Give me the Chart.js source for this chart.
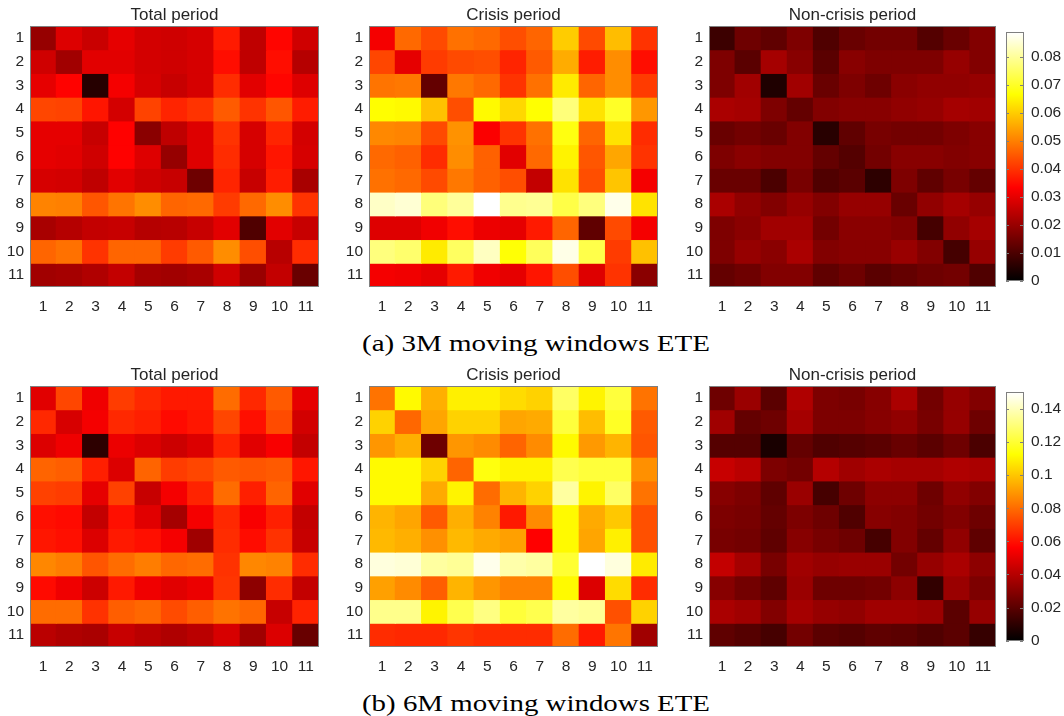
<!DOCTYPE html>
<html><head><meta charset="utf-8">
<script src="https://cdn.jsdelivr.net/npm/chart.js@4.4.1/dist/chart.umd.min.js"></script>
<style>
html,body{margin:0;padding:0;background:#fff;width:1064px;height:716px;overflow:hidden;position:relative}
canvas{position:absolute}
.cap{position:absolute;font-family:'Liberation Serif','DejaVu Serif',serif;font-size:23px;line-height:23px;color:#000;white-space:nowrap;transform-origin:left center}
</style></head><body>
<div class="cap" id="capA">(a) 3M moving windows ETE</div>
<div class="cap" id="capB">(b) 6M moving windows ETE</div>
<script>
// ---------------- data ----------------
const tickLabels = ['1','2','3','4','5','6','7','8','9','10','11'];
const titles = ['Total period','Crisis period','Non-crisis period'];

const totalA = [
 [0.0196,0.0288,0.0262,0.030,0.0275,0.027,0.028,0.0367,0.0249,0.034,0.027],
 [0.027,0.021,0.0295,0.0295,0.0275,0.027,0.028,0.035,0.025,0.035,0.0236],
 [0.030,0.0335,0.005,0.032,0.028,0.026,0.028,0.039,0.0295,0.034,0.029],
 [0.0425,0.042,0.036,0.0275,0.042,0.038,0.040,0.0452,0.040,0.0445,0.037],
 [0.030,0.030,0.026,0.0334,0.018,0.025,0.029,0.040,0.028,0.038,0.0275],
 [0.030,0.0295,0.027,0.0334,0.029,0.0196,0.029,0.039,0.028,0.036,0.028],
 [0.028,0.0275,0.025,0.0295,0.027,0.026,0.0144,0.038,0.026,0.037,0.022],
 [0.0504,0.050,0.0445,0.0485,0.0517,0.0465,0.047,0.041,0.047,0.0517,0.040],
 [0.022,0.0236,0.0255,0.026,0.0236,0.024,0.026,0.0295,0.0105,0.0295,0.026],
 [0.0465,0.048,0.040,0.0465,0.0465,0.041,0.045,0.0517,0.0435,0.024,0.039],
 [0.021,0.0215,0.023,0.0255,0.0215,0.021,0.022,0.027,0.020,0.0255,0.0137]
];
const crisisA = [
 [0.032,0.047,0.043,0.048,0.047,0.0435,0.0465,0.060,0.043,0.058,0.040],
 [0.0425,0.030,0.041,0.043,0.0435,0.038,0.045,0.0557,0.037,0.0517,0.035],
 [0.0485,0.049,0.013,0.049,0.047,0.040,0.048,0.064,0.0465,0.0517,0.041],
 [0.0665,0.066,0.0585,0.0435,0.066,0.0615,0.0667,0.0772,0.063,0.070,0.053],
 [0.051,0.0505,0.043,0.0524,0.0328,0.040,0.048,0.068,0.0465,0.0628,0.039],
 [0.047,0.046,0.039,0.0517,0.046,0.0295,0.047,0.065,0.0445,0.055,0.040],
 [0.048,0.047,0.043,0.049,0.046,0.0435,0.0255,0.0628,0.0435,0.059,0.032],
 [0.0838,0.085,0.0772,0.080,0.089,0.079,0.0795,0.0728,0.0775,0.087,0.063],
 [0.029,0.029,0.0315,0.035,0.031,0.030,0.0367,0.0465,0.0125,0.043,0.032],
 [0.0775,0.076,0.064,0.075,0.0834,0.067,0.0745,0.0867,0.073,0.041,0.0585],
 [0.032,0.0315,0.030,0.0367,0.0315,0.030,0.036,0.0435,0.029,0.040,0.018]
];
const nonCrisisA = [
 [0.0078,0.0144,0.0125,0.0164,0.0105,0.0137,0.015,0.015,0.011,0.0137,0.017],
 [0.0164,0.0118,0.0216,0.0177,0.0118,0.0177,0.0164,0.0164,0.0164,0.0196,0.017],
 [0.0164,0.021,0.004,0.021,0.0137,0.0164,0.0144,0.018,0.019,0.019,0.0196],
 [0.0222,0.0216,0.0164,0.013,0.017,0.0177,0.0177,0.019,0.0196,0.0216,0.021],
 [0.0137,0.015,0.0137,0.017,0.0052,0.0125,0.0157,0.015,0.015,0.0164,0.0177],
 [0.0164,0.018,0.017,0.017,0.013,0.011,0.015,0.0177,0.0177,0.017,0.0177],
 [0.0137,0.0137,0.0098,0.0157,0.0105,0.0118,0.0059,0.0164,0.0125,0.0157,0.013],
 [0.0222,0.019,0.017,0.0196,0.017,0.0196,0.0196,0.0137,0.019,0.0216,0.0196],
 [0.0164,0.018,0.021,0.021,0.015,0.018,0.018,0.017,0.009,0.019,0.0216],
 [0.0164,0.0196,0.018,0.0222,0.017,0.0177,0.0177,0.020,0.017,0.009,0.0196],
 [0.013,0.0144,0.017,0.017,0.0125,0.0144,0.0118,0.013,0.0144,0.015,0.0105]
];
const totalB = [
 [0.0497,0.0717,0.053,0.0695,0.065,0.0618,0.0618,0.080,0.065,0.076,0.0507],
 [0.065,0.0474,0.054,0.065,0.063,0.0585,0.061,0.0717,0.0595,0.0728,0.0463],
 [0.0485,0.053,0.0099,0.052,0.0485,0.045,0.0485,0.064,0.0497,0.055,0.043],
 [0.0783,0.077,0.063,0.0485,0.0783,0.0695,0.0717,0.076,0.075,0.076,0.061],
 [0.0706,0.0695,0.0507,0.0706,0.044,0.054,0.064,0.080,0.063,0.0783,0.0497],
 [0.0595,0.0585,0.043,0.0595,0.0497,0.0364,0.054,0.065,0.055,0.063,0.043],
 [0.061,0.0595,0.0485,0.0618,0.0595,0.054,0.0353,0.066,0.059,0.0673,0.044],
 [0.086,0.0838,0.075,0.080,0.0838,0.079,0.080,0.0673,0.086,0.085,0.066],
 [0.0585,0.053,0.045,0.0618,0.053,0.0497,0.052,0.068,0.031,0.066,0.043],
 [0.080,0.080,0.0673,0.077,0.079,0.0728,0.077,0.0816,0.079,0.044,0.064],
 [0.041,0.0386,0.0375,0.044,0.041,0.0386,0.041,0.0474,0.0353,0.0485,0.023]
];
const crisisB = [
 [0.0816,0.1115,0.0948,0.1092,0.1092,0.1048,0.1026,0.127,0.110,0.1213,0.0816],
 [0.1026,0.079,0.0927,0.1026,0.1026,0.0927,0.0937,0.1213,0.098,0.118,0.076],
 [0.0893,0.0948,0.0243,0.0893,0.087,0.0783,0.087,0.1115,0.090,0.096,0.075],
 [0.1115,0.1115,0.1026,0.0783,0.1145,0.110,0.110,0.124,0.121,0.121,0.088],
 [0.1115,0.1115,0.0937,0.110,0.080,0.096,0.1026,0.136,0.110,0.127,0.0816],
 [0.096,0.0927,0.076,0.0948,0.085,0.0618,0.087,0.1115,0.0937,0.1004,0.074],
 [0.097,0.0948,0.088,0.097,0.0937,0.0915,0.0562,0.1115,0.0927,0.1092,0.074],
 [0.145,0.144,0.136,0.1345,0.147,0.1375,0.136,0.120,0.150,0.145,0.108],
 [0.0915,0.087,0.077,0.096,0.0893,0.085,0.085,0.1115,0.0485,0.1048,0.066],
 [0.133,0.133,0.110,0.124,0.1316,0.121,0.124,0.136,0.1345,0.074,0.1026],
 [0.066,0.065,0.065,0.068,0.066,0.066,0.066,0.080,0.0618,0.082,0.0353]
];
const nonCrisisB = [
 [0.0243,0.034,0.020,0.0386,0.0276,0.0265,0.0298,0.0375,0.0254,0.033,0.0287],
 [0.0353,0.022,0.0243,0.0364,0.0276,0.0276,0.0298,0.032,0.0265,0.033,0.0243],
 [0.0188,0.0188,0.0055,0.022,0.0176,0.0188,0.020,0.023,0.020,0.0243,0.0165],
 [0.044,0.041,0.0276,0.0254,0.0397,0.0353,0.0375,0.0364,0.0364,0.0386,0.0375],
 [0.0298,0.0276,0.021,0.034,0.0154,0.0243,0.031,0.031,0.0243,0.032,0.0287],
 [0.0276,0.0265,0.022,0.0276,0.0243,0.0176,0.0298,0.0287,0.0254,0.0287,0.0243],
 [0.0265,0.0254,0.021,0.0298,0.0265,0.0243,0.0154,0.0287,0.022,0.032,0.021],
 [0.043,0.0364,0.0265,0.0353,0.033,0.034,0.034,0.0254,0.033,0.0375,0.031],
 [0.0298,0.0254,0.021,0.034,0.0243,0.0243,0.0254,0.031,0.011,0.034,0.0276],
 [0.0375,0.0353,0.0287,0.0364,0.033,0.032,0.0353,0.0353,0.034,0.020,0.033],
 [0.021,0.0188,0.0154,0.0254,0.020,0.0188,0.021,0.020,0.0176,0.020,0.012]
];
const rowTicks = [1,2,3,4,5,6,7,8,9,10,11];
const cbMaxA = 0.0888;
const cbMaxB = 0.15;
const cbTicksA = [0,0.01,0.02,0.03,0.04,0.05,0.06,0.07,0.08];
const cbLabelsA = ['0','0.01','0.02','0.03','0.04','0.05','0.06','0.07','0.08'];
const cbTicksB = [0,0.02,0.04,0.06,0.08,0.1,0.12,0.14];
const cbLabelsB = ['0','0.02','0.04','0.06','0.08','0.1','0.12','0.14'];

// ---------------- helpers ----------------
const FONT = "'Liberation Sans', Arial, Helvetica, sans-serif";
const TXT = '#262626';
const FRAME = '#7f7f7f';
const TICK_SIZE = 15.5;
const TITLE_SIZE = 17;
function clamp(x){return Math.max(0, Math.min(1, x));}
function hot(t){
  t = clamp(t);
  const r = clamp(t/0.375), g = clamp((t-0.375)/0.375), b = clamp((t-0.75)/0.25);
  return 'rgb(' + Math.round(r*255) + ',' + Math.round(g*255) + ',' + Math.round(b*255) + ')';
}
const framePlugin = {
  id:'frame',
  afterDraw(chart){
    const {ctx, chartArea:a} = chart;
    ctx.save();
    ctx.strokeStyle = FRAME; ctx.lineWidth = 1;
    const l = Math.round(a.left)+0.5, t = Math.round(a.top)+0.5;
    const w = Math.round(a.right)-Math.round(a.left)-1, h = Math.round(a.bottom)-Math.round(a.top)-1;
    ctx.strokeRect(l, t, w, h);
    const ys = chart.options.cbTickMarks;
    if (ys) {
      const sc = chart.scales.y;
      ys.forEach(v => {
        const y = Math.round(sc.getPixelForValue(v))+0.5;
        ctx.beginPath(); ctx.moveTo(a.right-1, y); ctx.lineTo(a.right-4, y); ctx.stroke();
        ctx.beginPath(); ctx.moveTo(a.left, y); ctx.lineTo(a.left+3, y); ctx.stroke();
      });
    }
    ctx.restore();
  }
};
function mkCanvas(left, top, w, h){
  const c = document.createElement('canvas');
  c.width = w; c.height = h;
  c.style.left = left + 'px'; c.style.top = top + 'px';
  c.style.width = w + 'px'; c.style.height = h + 'px';
  document.body.appendChild(c);
  return c;
}
function heatmap(L, T, W, H, values, vmax, title){
  const padL = 40, padR = 40, padT = 26, padB = 35;
  const cv = mkCanvas(L-padL, T-padT, W+padL+padR, H+padT+padB);
  new Chart(cv, {
    type:'bar',
    data:{
      labels: tickLabels,
      datasets: values.map((row, ri) => ({
        data: row.map(() => [rowTicks[ri]-0.5, rowTicks[ri]+0.5]),
        backgroundColor: row.map(v => hot(v/vmax)),
        borderWidth:0, grouped:false, barPercentage:1, categoryPercentage:1, inflateAmount:0.5
      }))
    },
    options:{
      responsive:false, animation:false, devicePixelRatio:1,
      layout:{padding:{left:0, right:0, top:0, bottom:0}},
      plugins:{
        legend:{display:false}, tooltip:{enabled:false},
        title:{display:true, text:title, color:TXT, font:{family:FONT, size:TITLE_SIZE, weight:'normal', lineHeight:1.2}, padding:{top:5, bottom:0.6}}
      },
      scales:{
        x:{type:'category', offset:true, grid:{display:false, drawTicks:false}, border:{display:false},
           ticks:{color:TXT, font:{family:FONT, size:TICK_SIZE}, padding:10, maxRotation:0, autoSkip:false},
           afterFit(s){ s.height = padB; }},
        y:{type:'linear', reverse:true, min:0.5, max:11.5, grid:{display:false, drawTicks:false}, border:{display:false},
           ticks:{color:TXT, font:{family:FONT, size:TICK_SIZE}, padding:6, callback:(v) => tickLabels[rowTicks.indexOf(v)]},
           afterBuildTicks(s){ s.ticks = rowTicks.map(v => ({value:v})); },
           afterFit(s){ s.width = padL; }},
        yRight:{type:'linear', position:'right', min:0.5, max:11.5, grid:{display:false, drawTicks:false}, border:{display:false},
           ticks:{display:false},
           afterFit(s){ s.width = padR; }}
      }
    },
    plugins:[framePlugin]
  });
}
function colorbar(L, T, W, H, vmax, ticks, labels){
  const padT = 10, padB = 10, axW = 57;
  const cv = mkCanvas(L, T-padT, W+axW, H+padT+padB);
  new Chart(cv, {
    type:'bar',
    data:{
      labels:['cb'],
      datasets:[{
        data:[[0, vmax]],
        backgroundColor:(c) => {
          const a = c.chart.chartArea;
          if (!a) return '#fff';
          const g = c.chart.ctx.createLinearGradient(0, a.bottom, 0, a.top);
          for (let i = 0; i <= 64; i++) g.addColorStop(i/64, hot(i/64));
          return g;
        },
        borderWidth:0, barPercentage:1, categoryPercentage:1, inflateAmount:0
      }]
    },
    options:{
      responsive:false, animation:false, devicePixelRatio:1,
      cbTickMarks: ticks,
      layout:{padding:{left:0, right:0, top:padT, bottom:padB}},
      plugins:{legend:{display:false}, tooltip:{enabled:false}},
      scales:{
        x:{display:false},
        y:{position:'right', min:0, max:vmax, grid:{display:false, drawTicks:false}, border:{display:false},
           ticks:{color:TXT, font:{family:FONT, size:TICK_SIZE}, padding:7, callback:(v) => labels[ticks.indexOf(v)]},
           afterBuildTicks(s){ s.ticks = ticks.map(v => ({value:v})); },
           afterFit(s){ s.width = axW; }}
      }
    },
    plugins:[framePlugin]
  });
}

// ---------------- layout ----------------
const colL = [30, 369, 709];
const colW = [289, 289, 287];
const rowT = [26, 386];
const H = 261;
const dataA = [totalA, crisisA, nonCrisisA];
const dataB = [totalB, crisisB, nonCrisisB];
for (let i = 0; i < 3; i++) {
  heatmap(colL[i], rowT[0], colW[i], H, dataA[i], cbMaxA, titles[i]);
  heatmap(colL[i], rowT[1], colW[i], H, dataB[i], cbMaxB, titles[i]);
}
colorbar(1006, rowT[0], 18, H, cbMaxA, cbTicksA, cbLabelsA);
colorbar(1006, rowT[1], 18, H, cbMaxB, cbTicksB, cbLabelsB);

function placeCap(id, left, centerY, targetW){
  const el = document.getElementById(id);
  const w = el.getBoundingClientRect().width;
  el.style.left = left + 'px';
  el.style.top = (centerY - 11.5) + 'px';
  el.style.transform = 'scaleX(' + (targetW / w) + ')';
}
placeCap('capA', 362, 343, 348);
placeCap('capB', 362, 703, 348);
</script>
</body></html>
